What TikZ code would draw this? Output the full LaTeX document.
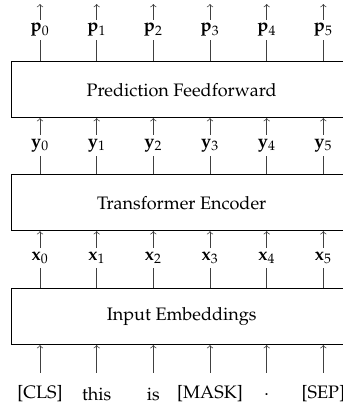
\documentclass[tikz,border=0pt]{standalone}
\usepackage[T1]{fontenc}
\usepackage{mathpazo}
\begin{document}
\begin{tikzpicture}[x=0.554pt,y=-0.554pt,
  layer/.style={draw,minimum width=188.4pt,minimum height=31pt,inner sep=0pt},
  vlabel/.style={inner sep=0pt,minimum height=11.1pt},
  token/.style={inner sep=0pt,minimum height=22.9pt},
  conn/.style={line width=0.4pt,draw=black!75},
  arr/.style={conn,->}]
\useasboundingbox (0,0) rectangle (343,408);
\node[layer] (pred) at (181.7,89.7) {Prediction Feedforward};
\node[layer] (enc) at (181.7,202.8) {Transformer Encoder};
\node[layer] (emb) at (181.7,316.7) {Input Embeddings};
\foreach \i/\w in {0/{[CLS]},1/this,2/is,3/{[MASK]},4/.,5/{[SEP]}}{
  \pgfmathsetmacro{\cx}{40+56.67*\i}
  \node[vlabel] (p\i) at (\cx,30) {$\mathbf{p}_\i$};
  \node[vlabel] (y\i) at (\cx,145.3) {$\mathbf{y}_\i$};
  \node[vlabel] (x\i) at (\cx,258) {$\mathbf{x}_\i$};
  \node[token] (w\i) at (\cx,394) {\w};
  \coordinate (t\i) at (\cx,4);
  \draw[arr] (p\i.north) -- (t\i);
  \draw[conn] (p\i |- pred.north) -- (p\i.south);
  \draw[arr] (y\i.north) -- (y\i |- pred.south);
  \draw[conn] (y\i |- enc.north) -- (y\i.south);
  \draw[arr] (x\i.north) -- (x\i |- enc.south);
  \draw[conn] (x\i |- emb.north) -- (x\i.south);
  \draw[arr] (w\i.north) -- (w\i |- emb.south);
}
\end{tikzpicture}
\end{document}
